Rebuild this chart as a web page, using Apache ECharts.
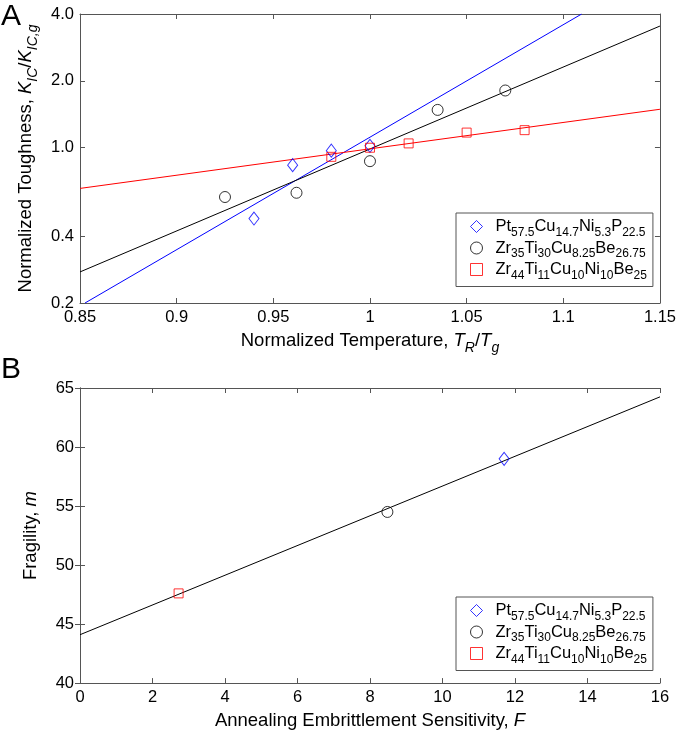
<!DOCTYPE html>
<html><head><meta charset="utf-8">
<script src="https://cdn.jsdelivr.net/npm/echarts@6/dist/echarts.min.js"></script>
<style>html,body{margin:0;padding:0;background:#fff}#c{width:679px;height:736px}</style>
</head><body><div id="c"></div>
<script>
const FONT = '"Liberation Sans", Arial, sans-serif';
// ---- Panel A: normalized toughness vs normalized temperature ----
const ptTempA = [0.94, 0.96, 0.98, 1.00];
const ptTougA = [0.48, 0.835, 0.97, 1.02];
const zrTiTempA = [0.925, 0.962, 1.00, 1.035, 1.07];
const zrTiTougA = [0.60, 0.627, 0.87, 1.48, 1.81];
const zrNiTempA = [0.98, 1.00, 1.02, 1.05, 1.08];
const zrNiTougA = [0.91, 1.00, 1.046, 1.17, 1.20];
const ptFitA = [[0.8526, 0.2], [1.1095, 4.0]];
const zrTiFitA = [[0.85, 0.276], [1.15, 3.53]];
const zrNiFitA = [[0.85, 0.656], [1.15, 1.49]];
const yTicksA = [0.2, 0.4, 1.0, 2.0, 4.0];
// ---- Panel B: fragility vs annealing embrittlement sensitivity ----
const sensB = [11.7, 8.48, 2.72];
const fragB = [59.0, 54.5, 47.6];
const fitB = [[0, 44.1], [16, 64.25]];

const names = ['Pt57.5Cu14.7Ni5.3P22.5', 'Zr35Ti30Cu8.25Be26.75', 'Zr44Ti11Cu10Ni10Be25'];
const richNames = {
  'Pt57.5Cu14.7Ni5.3P22.5': '{f|Pt}{s|57.5}{n|Cu}{s|14.7}{n|Ni}{s|5.3}{n|P}{s|22.5}',
  'Zr35Ti30Cu8.25Be26.75': '{f|Zr}{s|35}{n|Ti}{s|30}{n|Cu}{s|8.25}{n|Be}{s|26.75}',
  'Zr44Ti11Cu10Ni10Be25': '{f|Zr}{s|44}{n|Ti}{s|11}{n|Cu}{s|10}{n|Ni}{s|10}{n|Be}{s|25}'
};
const colors = ['#0000ff', '#000000', '#ff0000'];
const symbols = ['diamond', 'circle', 'rect'];
const symSizes = [[10, 13], 11, 9];

const zip = (a, b) => a.map((v, i) => [v, b[i]]);
const axisColor = '#555';
const tickStyle = { inside: true, length: 5, lineStyle: { color: axisColor } };
const labelStyle = { color: '#000', fontSize: 16.5, fontFamily: FONT };
const richName = {
  n: { fontSize: 18.5, fontFamily: FONT, color: '#000', lineHeight: 28 },
  i: { fontSize: 18.5, fontFamily: FONT, color: '#000', fontStyle: 'italic', lineHeight: 28 },
  s: { fontSize: 14, fontFamily: FONT, color: '#000', fontStyle: 'italic', lineHeight: 4, verticalAlign: 'bottom' }
};
const nameStyle = { fontSize: 18.5, fontFamily: FONT, color: '#000', lineHeight: 28, rich: richName };

function legendFor(top) {
  return {
    left: 456, top: top, orient: 'vertical',
    padding: [5, 6, 5, 14], itemGap: 1, itemWidth: 12, itemHeight: 12,
    borderColor: axisColor, borderWidth: 1, backgroundColor: '#fff',
    selectedMode: false,
    data: names.map((n, k) => ({ name: n, icon: symbols[k],
      itemStyle: { color: 'rgba(0,0,0,0)', borderColor: colors[k], borderWidth: 1 } })),
    formatter: n => richNames[n],
    textStyle: {
      rich: {
        f: { fontSize: 16.5, fontFamily: FONT, color: '#000', lineHeight: 24, padding: [0, 0, 0, 8] },
        n: { fontSize: 16.5, fontFamily: FONT, color: '#000', lineHeight: 24 },
        s: { fontSize: 12, fontFamily: FONT, color: '#000', lineHeight: 4, verticalAlign: 'bottom' }
      }
    }
  };
}

function scatter(k, data, xi, yi) {
  return {
    type: 'scatter', name: names[k], xAxisIndex: xi, yAxisIndex: yi, data: data,
    symbol: symbols[k], symbolSize: symSizes[k], z: 3,
    itemStyle: { color: 'rgba(0,0,0,0)', borderColor: colors[k], borderWidth: 1 }
  };
}
function fit(color, data, xi, yi) {
  return {
    type: 'line', data: data, xAxisIndex: xi, yAxisIndex: yi, showSymbol: false, symbol: 'none',
    lineStyle: { color: color, width: 1 }, z: 2, silent: true
  };
}

const option = {
  animation: false,
  backgroundColor: '#fff',
  textStyle: { fontFamily: FONT },
  grid: [
    { left: 80, top: 14, right: 19, bottom: 433 },
    { left: 80, top: 388, right: 19, bottom: 49 }
  ],
  graphic: [
    { type: 'text', left: 1, top: 2, style: { text: 'A', fontSize: 30, fontFamily: FONT, fill: '#000' } },
    { type: 'text', left: 1, top: 355, style: { text: 'B', fontSize: 30, fontFamily: FONT, fill: '#000' } }
  ],
  legend: [legendFor(213), legendFor(597)],
  xAxis: [
    { gridIndex: 0, type: 'value', min: 0.85, max: 1.15, interval: 0.05, position: 'bottom',
      axisLine: { lineStyle: { color: axisColor } }, axisTick: tickStyle, splitLine: { show: false },
      axisLabel: Object.assign({ margin: 6 }, labelStyle),
      name: 'Normalized Temperature, {i|T}{s|R}/{i|T}{s|g}', nameLocation: 'middle', nameGap: 23, nameTextStyle: nameStyle },
    { gridIndex: 0, type: 'value', min: 0.85, max: 1.15, interval: 0.05, position: 'top',
      axisLine: { lineStyle: { color: axisColor } }, axisTick: tickStyle, splitLine: { show: false }, axisLabel: { show: false } },
    { gridIndex: 1, type: 'value', min: 0, max: 16, interval: 2, position: 'bottom',
      axisLine: { lineStyle: { color: axisColor } }, axisTick: tickStyle, splitLine: { show: false },
      axisLabel: Object.assign({ margin: 6 }, labelStyle),
      name: 'Annealing Embrittlement Sensitivity, {i|F}', nameLocation: 'middle', nameGap: 19, nameTextStyle: nameStyle },
    { gridIndex: 1, type: 'value', min: 0, max: 16, interval: 2, position: 'top',
      axisLine: { lineStyle: { color: axisColor } }, axisTick: tickStyle, splitLine: { show: false }, axisLabel: { show: false } }
  ],
  yAxis: [
    { gridIndex: 0, type: 'log', logBase: 10, min: 0.2, max: 4.0, position: 'left',
      axisLine: { show: true, lineStyle: { color: axisColor } },
      axisTick: Object.assign({ customValues: yTicksA }, tickStyle), splitLine: { show: false },
      axisLabel: Object.assign({ margin: 6, customValues: yTicksA, formatter: v => Number(v).toFixed(1) }, labelStyle),
      name: 'Normalized Toughness, {i|K}{s|IC}/{i|K}{s|IC,g}', nameLocation: 'middle', nameGap: 39, nameTextStyle: nameStyle },
    { gridIndex: 0, type: 'log', logBase: 10, min: 0.2, max: 4.0, position: 'right',
      axisLine: { show: true, lineStyle: { color: axisColor } },
      axisTick: Object.assign({ customValues: yTicksA }, tickStyle), splitLine: { show: false },
      axisLabel: { show: false, customValues: yTicksA } },
    { gridIndex: 1, type: 'value', min: 40, max: 65, interval: 5, position: 'left',
      axisLine: { show: true, lineStyle: { color: axisColor } }, axisTick: tickStyle, splitLine: { show: false },
      axisLabel: Object.assign({ margin: 6 }, labelStyle),
      name: 'Fragility, {i|m}', nameLocation: 'middle', nameGap: 27, nameTextStyle: nameStyle },
    { gridIndex: 1, type: 'value', min: 40, max: 65, interval: 5, position: 'right',
      axisLine: { show: true, lineStyle: { color: axisColor } }, axisTick: tickStyle, splitLine: { show: false }, axisLabel: { show: false } }
  ],
  series: [
    fit(colors[0], ptFitA, 0, 0),
    fit(colors[1], zrTiFitA, 0, 0),
    fit(colors[2], zrNiFitA, 0, 0),
    scatter(0, zip(ptTempA, ptTougA), 0, 0),
    scatter(1, zip(zrTiTempA, zrTiTougA), 0, 0),
    scatter(2, zip(zrNiTempA, zrNiTougA), 0, 0),
    fit(colors[1], fitB, 2, 2),
    scatter(0, [[sensB[0], fragB[0]]], 2, 2),
    scatter(1, [[sensB[1], fragB[1]]], 2, 2),
    scatter(2, [[sensB[2], fragB[2]]], 2, 2)
  ]
};
const chart = echarts.init(document.getElementById('c'), null, { renderer: 'canvas' });
chart.setOption(option);
</script></body></html>
